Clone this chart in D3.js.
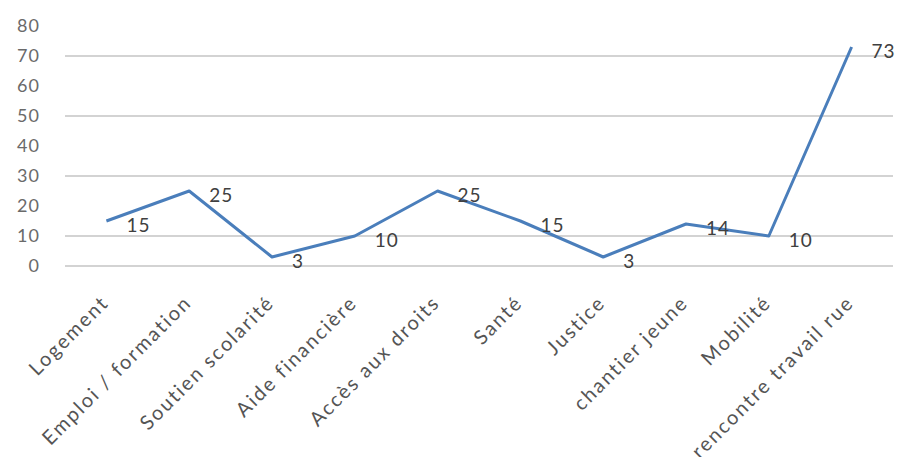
<!DOCTYPE html>
<html>
<head>
<meta charset="utf-8">
<script src="https://cdn.jsdelivr.net/npm/d3@7/dist/d3.min.js"></script>
<style>
  html, body { margin: 0; padding: 0; background: #fff; }
  svg { display: block; }
</style>
</head>
<body>
<svg id="chart" width="899" height="457"></svg>
<script>
const categories = ["Logement", "Emploi / formation", "Soutien scolarité", "Aide financière", "Accès aux droits", "Santé", "Justice", "chantier jeune", "Mobilité", "rencontre travail rue"];
const values = [15, 25, 3, 10, 25, 15, 3, 14, 10, 73];
const yTicks = [0, 10, 20, 30, 40, 50, 60, 70, 80];
const gridValues = [0, 10, 30, 50, 70];

(function () {
const svg = d3.select("#chart");
const W = 899, H = 457;
const pLeft = 65, pRight = 893, pTop = 26, pBottom = 266;

const x = d3.scalePoint().domain(categories).range([pLeft, pRight]).padding(0.5);
const y = d3.scaleLinear().domain([0, 80]).range([pBottom, pTop]);

svg.append("rect").attr("width", W).attr("height", H).attr("fill", "#fff");

// gridlines
svg.append("g").selectAll("line").data(gridValues).join("line")
  .attr("x1", pLeft).attr("x2", pRight)
  .attr("y1", d => y(d)).attr("y2", d => y(d))
  .attr("stroke", "#c4c4c4").attr("stroke-width", 1.6);

// y axis labels
const yAxis = d3.axisLeft(y).tickValues(yTicks).tickSize(0).tickPadding(0);
const gy = svg.append("g").attr("transform", "translate(40,0)").call(yAxis);
gy.select(".domain").remove();
gy.selectAll("text")
  .attr("font-family", "Lato, 'Open Sans', sans-serif")
  .attr("font-size", 18).attr("letter-spacing", 1).attr("fill", "#6a6a6a");

// x axis labels
const xAxis = d3.axisBottom(x).tickSize(0).tickPadding(0);
const gx = svg.append("g").attr("transform", `translate(0,${pBottom})`).call(xAxis);
gx.select(".domain").remove();
gx.selectAll("text")
  .attr("font-family", "Lato, 'Open Sans', sans-serif")
  .attr("font-size", 20).attr("letter-spacing", 2).attr("fill", "#555")
  .attr("text-anchor", "end")
  .attr("dy", 0).attr("y", 0)
  .attr("transform", "translate(3,38) rotate(-45)");

// line
const line = d3.line().x((d, i) => x(categories[i])).y(d => y(d));
svg.append("path").datum(values)
  .attr("d", line).attr("fill", "none")
  .attr("stroke", "#4a7ebb").attr("stroke-width", 3)
  .attr("stroke-linejoin", "round");

// data labels
svg.append("g").selectAll("text").data(values).join("text")
  .attr("x", (d, i) => x(categories[i]) + 20)
  .attr("y", d => y(d) + 4)
  .attr("dy", "0.35em")
  .attr("font-family", "Lato, 'Open Sans', sans-serif")
  .attr("font-size", 19).attr("letter-spacing", 1).attr("fill", "#404040")
  .text(d => d);
})();
</script>
</body>
</html>
